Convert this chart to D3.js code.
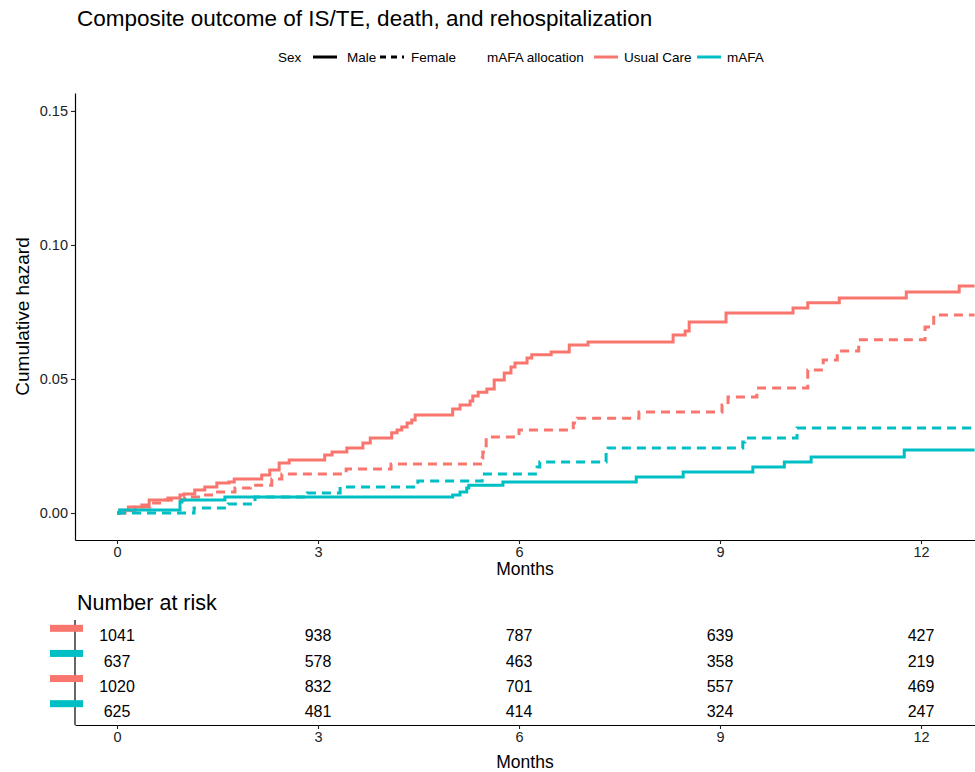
<!DOCTYPE html>
<html><head><meta charset="utf-8">
<script src="https://cdn.jsdelivr.net/npm/d3@7"></script>
<style>body{margin:0;background:#fff} text{font-family:"Liberation Sans",Arial,sans-serif}</style>
</head><body><svg id="c" width="975" height="772"></svg>
<script>
// ---------- data ----------
const monthTicks = [0, 3, 6, 9, 12];
const hazardTicks = [0, 0.05, 0.10, 0.15];
const allocation = ["Usual Care", "mAFA"];
const sexes = ["Male", "Female"];
const followUpEnd = 12.8;

// cumulative hazard step points [month, cumulative hazard]
const usualCareMale = [[0,0],[0.04,0.001],[0.17,0.0022],[0.37,0.003],[0.48,0.0049],[0.76,0.0056],[0.94,0.0067],[1.0,0.0071],[1.16,0.0086],[1.31,0.0097],[1.49,0.0112],[1.67,0.0116],[1.75,0.0127],[2.16,0.0142],[2.28,0.016],[2.42,0.0187],[2.57,0.0198],[3.1,0.0216],[3.21,0.0228],[3.43,0.0243],[3.67,0.0261],[3.78,0.028],[4.1,0.0299],[4.18,0.031],[4.25,0.0321],[4.33,0.0336],[4.4,0.0347],[4.45,0.0366],[5.01,0.0388],[5.12,0.0403],[5.27,0.0418],[5.31,0.0437],[5.39,0.0451],[5.52,0.0463],[5.63,0.0496],[5.78,0.0522],[5.88,0.0545],[5.94,0.056],[6.12,0.0578],[6.19,0.059],[6.48,0.0601],[6.75,0.0627],[7.03,0.0638],[8.3,0.0664],[8.48,0.0679],[8.54,0.0713],[9.09,0.0746],[10.09,0.0765],[10.31,0.0784],[10.78,0.0802],[11.78,0.0825],[12.57,0.0847]];
const usualCareFemale = [[0,0],[0.12,0.0008],[0.27,0.0022],[0.49,0.0037],[0.72,0.0049],[1.01,0.006],[1.24,0.0067],[1.46,0.0078],[1.76,0.0093],[1.99,0.0104],[2.31,0.0127],[2.46,0.0146],[3.42,0.0164],[4.09,0.0183],[5.45,0.0205],[5.46,0.0228],[5.51,0.0284],[6.0,0.031],[6.81,0.0336],[6.87,0.0354],[7.79,0.0377],[9.03,0.0403],[9.12,0.0433],[9.55,0.0466],[10.31,0.0534],[10.54,0.0571],[10.75,0.0604],[11.07,0.0646],[12.06,0.0694],[12.19,0.0739]];
const mafaMale = [[0,0],[0.04,0.0011],[0.94,0.0041],[0.97,0.0049],[1.61,0.006],[5.01,0.0067],[5.12,0.0078],[5.22,0.0093],[5.25,0.0104],[5.76,0.0116],[7.75,0.0134],[8.45,0.0153],[9.49,0.0172],[9.96,0.019],[10.36,0.0209],[11.75,0.0235]];
const mafaFemale = [[0,0],[1.15,0.0019],[1.66,0.0034],[2.06,0.006],[2.84,0.0075],[3.33,0.0097],[4.49,0.0119],[5.45,0.0146],[6.27,0.0172],[6.31,0.019],[7.3,0.0224],[7.33,0.0243],[9.34,0.0265],[9.37,0.028],[10.15,0.0317]];

// number at risk rows
const riskUsualCareMale = [1041, 938, 787, 639, 427];
const riskMafaMale = [637, 578, 463, 358, 219];
const riskUsualCareFemale = [1020, 832, 701, 557, 469];
const riskMafaFemale = [625, 481, 414, 324, 247];

// ---------- build ----------
const series = [
  {alloc:"Usual Care", sex:"Male", pts:usualCareMale},
  {alloc:"Usual Care", sex:"Female", pts:usualCareFemale},
  {alloc:"mAFA", sex:"Male", pts:mafaMale},
  {alloc:"mAFA", sex:"Female", pts:mafaFemale}
];
const riskRows = [
  {alloc:"Usual Care", vals:riskUsualCareMale},
  {alloc:"mAFA", vals:riskMafaMale},
  {alloc:"Usual Care", vals:riskUsualCareFemale},
  {alloc:"mAFA", vals:riskMafaFemale}
];

const color = d3.scaleOrdinal().domain(allocation).range(["#F8766D", "#00BFC4"]);
const dash = d3.scaleOrdinal().domain(sexes).range(["none", "9,6"]);

const svg = d3.select("#c");
const L = 75, R = 975, T = 93, B = 540;
const x = d3.scaleLinear().domain([-0.627, 12.806]).range([L, R]);
const y = d3.scaleLinear().domain([-0.01007, 0.1567]).range([B, T]);

// title
svg.append("text").attr("x", 77).attr("y", 26).attr("font-size", 22.5).attr("fill", "#000")
  .text("Composite outcome of IS/TE, death, and rehospitalization");

// legend
const lg = svg.append("g").attr("font-size", 13.5).attr("fill", "#000");
const ly = 57;
lg.append("text").attr("x", 278).attr("y", ly).attr("dy", "0.35em").text("Sex");
lg.append("line").attr("x1", 313).attr("x2", 337).attr("y1", ly).attr("y2", ly).attr("stroke", "#000").attr("stroke-width", 3);
lg.append("text").attr("x", 347).attr("y", ly).attr("dy", "0.35em").text("Male");
lg.append("line").attr("x1", 380).attr("x2", 404).attr("y1", ly).attr("y2", ly).attr("stroke", "#000").attr("stroke-width", 3).attr("stroke-dasharray", "6,5");
lg.append("text").attr("x", 411).attr("y", ly).attr("dy", "0.35em").text("Female");
lg.append("text").attr("x", 487).attr("y", ly).attr("dy", "0.35em").text("mAFA allocation");
lg.append("line").attr("x1", 594).attr("x2", 618).attr("y1", ly).attr("y2", ly).attr("stroke", color("Usual Care")).attr("stroke-width", 3);
lg.append("text").attr("x", 624).attr("y", ly).attr("dy", "0.35em").text("Usual Care");
lg.append("line").attr("x1", 697).attr("x2", 721).attr("y1", ly).attr("y2", ly).attr("stroke", color("mAFA")).attr("stroke-width", 3);
lg.append("text").attr("x", 727).attr("y", ly).attr("dy", "0.35em").text("mAFA");

// curves
svg.append("clipPath").attr("id", "clip").append("rect").attr("x", L).attr("y", T).attr("width", R - L).attr("height", B - T);
const line = d3.line().x(d => x(d[0])).y(d => y(d[1])).curve(d3.curveStepAfter);
const gc = svg.append("g").attr("clip-path", "url(#clip)");
series.forEach(s => {
  const pts = s.pts.concat([[followUpEnd, s.pts[s.pts.length - 1][1]]]);
  gc.append("path").attr("d", line(pts)).attr("fill", "none")
    .attr("stroke", color(s.alloc)).attr("stroke-width", 3)
    .attr("stroke-dasharray", dash(s.sex));
});

// axes main
const axisStyle = g => {
  g.selectAll(".domain").attr("stroke", "#000").attr("stroke-width", 1.2);
  g.selectAll(".tick line").attr("stroke", "#222").attr("stroke-width", 1.1);
  g.selectAll(".tick text").attr("fill", "#222").attr("font-size", 14.5).attr("font-family", "Liberation Sans, Arial, sans-serif");
};
svg.append("g").attr("transform", `translate(0,${B})`)
  .call(d3.axisBottom(x).tickValues(monthTicks).tickSize(4).tickSizeOuter(0).tickPadding(3))
  .call(axisStyle);
svg.append("g").attr("transform", `translate(${L},0)`)
  .call(d3.axisLeft(y).tickValues(hazardTicks).tickFormat(d3.format(".2f")).tickSize(4).tickSizeOuter(0).tickPadding(3))
  .call(axisStyle);
svg.append("text").attr("x", (L + R) / 2).attr("y", 575).attr("text-anchor", "middle").attr("font-size", 17.5).text("Months");
svg.append("text").attr("transform", `translate(29,${(T + B) / 2}) rotate(-90)`).attr("text-anchor", "middle").attr("font-size", 19).text("Cumulative hazard");

// risk table
svg.append("text").attr("x", 77).attr("y", 610).attr("font-size", 21.5).text("Number at risk");
const RT = 620, RB = 725;
const ry = d3.scaleBand().domain(d3.range(riskRows.length)).range([RT + 2, RB]).paddingOuter(0.05);
svg.append("g").attr("transform", `translate(0,${RB})`)
  .call(d3.axisBottom(x).tickValues(monthTicks).tickSize(4).tickSizeOuter(0).tickPadding(3))
  .call(axisStyle);
svg.append("line").attr("x1", L).attr("x2", L).attr("y1", RT).attr("y2", RB).attr("stroke", "#000").attr("stroke-width", 1.2);
svg.append("text").attr("x", (L + R) / 2).attr("y", 768).attr("text-anchor", "middle").attr("font-size", 17.5).text("Months");
riskRows.forEach((r, i) => {
  const cy = ry(i) + ry.bandwidth() / 2;
  svg.append("rect").attr("x", 50).attr("y", cy - 11).attr("width", 33).attr("height", 7).attr("fill", color(r.alloc));
  r.vals.forEach((v, j) => {
    svg.append("text").attr("x", x(monthTicks[j])).attr("y", cy).attr("dy", "0.35em")
      .attr("text-anchor", "middle").attr("font-size", 16).text(v);
  });
});
</script></body></html>
